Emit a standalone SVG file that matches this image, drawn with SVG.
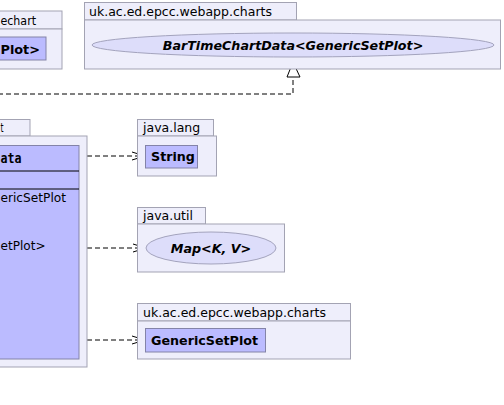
<svg xmlns="http://www.w3.org/2000/svg" width="504" height="405" viewBox="0 0 504 405">
<style>
.pkg{fill:#EEEEFB;stroke:#A3A3B3;stroke-width:1}
.cls{fill:#BBBBFF;stroke:#8383A8;stroke-width:1}
.ifc{fill:#DDDDFA;stroke:#A3A3BD;stroke-width:1}
.pt{font-family:"DejaVu Sans",sans-serif;font-size:12.5px;fill:#000}
.cn{font-family:"DejaVu Sans",sans-serif;font-size:12.7px;font-weight:bold;fill:#000}
.ci{font-family:"DejaVu Sans",sans-serif;font-size:12.7px;font-weight:bold;font-style:italic;fill:#000}
.mt{font-family:"DejaVu Sans",sans-serif;font-size:12.5px;fill:#000}
.ttl{font-family:"DejaVu Sans Mono",monospace;font-size:14px;font-weight:bold;fill:#000}
.dep{fill:none;stroke:#000;stroke-width:1;stroke-dasharray:5,3}
.ah{fill:none;stroke:#000;stroke-width:1}
</style>
<rect width="504" height="405" fill="#FFFFFF"/>
<g id="connectors">
<path class="dep" d="M-2,94 H293 V77"/>
<path d="M293,62 L287,77 L300,77 Z" fill="#FFFFFF" stroke="#000" stroke-width="1"/>
<path class="dep" d="M79,156 H144"/>
<path class="ah" d="M132,152 L145,156 L132,160"/>
<path class="dep" d="M79,248 H145"/>
<path class="ah" d="M133,244 L146,248 L133,252"/>
<path class="dep" d="M79,340 H144"/>
<path class="ah" d="M132,336 L145,340 L132,344"/>
</g>
<g id="pkg-left-top">
<rect class="pkg" x="-10" y="11" width="72" height="18"/>
<rect class="pkg" x="-10" y="29" width="72" height="40"/>
<text class="pt" x="0.5" y="25" textLength="35.5" lengthAdjust="spacingAndGlyphs">echart</text>
<rect class="cls" x="-10" y="37" width="56" height="23"/>
<text class="cn" x="0.5" y="54" textLength="39.5" lengthAdjust="spacingAndGlyphs">Plot&gt;</text>
</g>
<g id="pkg-charts-top">
<rect class="pkg" x="84.5" y="2.5" width="212" height="17.5"/>
<rect class="pkg" x="84.5" y="20" width="416" height="49"/>
<text class="pt" x="89" y="16">uk.ac.ed.epcc.webapp.charts</text>
<ellipse class="ifc" cx="293" cy="45" rx="201" ry="12"/>
<text class="ci" x="293" y="50" text-anchor="middle" font-size="13">BarTimeChartData&lt;GenericSetPlot&gt;</text>
</g>
<g id="pkg-main">
<rect class="pkg" x="-10" y="119.5" width="40" height="16.5"/>
<rect class="pkg" x="-10" y="136" width="97" height="231"/>
<text class="pt" x="0.5" y="132" textLength="3" lengthAdjust="spacingAndGlyphs">t</text>
<g id="class-main">
<rect class="cls" x="-10" y="145.5" width="89" height="213.5"/>
<line x1="-10" y1="171" x2="79" y2="171" stroke="#000" stroke-width="1"/>
<line x1="-10" y1="189" x2="79" y2="189" stroke="#000" stroke-width="1"/>
<text class="ttl" x="0.5" y="163" textLength="21" lengthAdjust="spacingAndGlyphs">ata</text>
<text class="mt" x="0.5" y="202" textLength="65.5" lengthAdjust="spacingAndGlyphs">ericSetPlot</text>
<text class="mt" x="0.5" y="250" textLength="45" lengthAdjust="spacingAndGlyphs">etPlot&gt;</text>
</g>
</g>
<g id="pkg-java-lang">
<rect class="pkg" x="137.5" y="119.5" width="76" height="16.5"/>
<rect class="pkg" x="137.5" y="136" width="79" height="40"/>
<text class="pt" x="143" y="132">java.lang</text>
<rect class="cls" x="145.5" y="145.5" width="52" height="22.5"/>
<text class="cn" x="151" y="161">String</text>
</g>
<g id="pkg-java-util">
<rect class="pkg" x="137.5" y="207.5" width="68" height="16.5"/>
<rect class="pkg" x="137.5" y="224" width="147" height="48"/>
<text class="pt" x="143" y="220">java.util</text>
<ellipse class="ifc" cx="211" cy="248" rx="65" ry="16"/>
<text class="ci" x="211" y="253" text-anchor="middle">Map&lt;K, V&gt;</text>
</g>
<g id="pkg-charts-bottom">
<rect class="pkg" x="137.5" y="303.5" width="213" height="17.5"/>
<rect class="pkg" x="137.5" y="321" width="213" height="38"/>
<text class="pt" x="143" y="317">uk.ac.ed.epcc.webapp.charts</text>
<rect class="cls" x="145.5" y="328.5" width="120" height="23.5"/>
<text class="cn" x="151" y="345">GenericSetPlot</text>
</g>
</svg>
